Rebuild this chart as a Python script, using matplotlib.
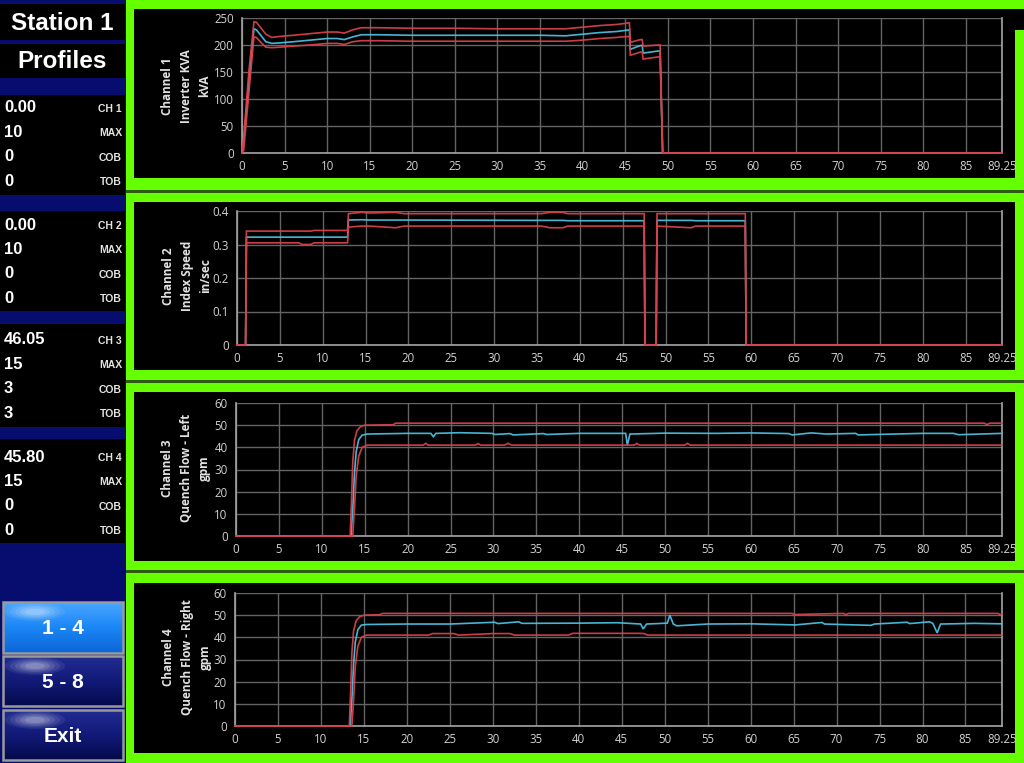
import matplotlib
matplotlib.use('Agg')
import matplotlib.pyplot as plt
from matplotlib.patches import Rectangle, Ellipse
import numpy as np

# ---------------- DATA ----------------
x_ticks = [0, 5, 10, 15, 20, 25, 30, 35, 40, 45, 50, 55, 60, 65, 70, 75, 80, 85, 89.25]
x_tick_labels = ["0", "5", "10", "15", "20", "25", "30", "35", "40", "45", "50", "55",
                 "60", "65", "70", "75", "80", "85", "89.25"]

ch1_title = "Channel 1\nInverter KVA\nkVA"
ch1_yticks = [0, 50, 100, 150, 200, 250]
ch1_ytick_labels = ["0", "50", "100", "150", "200", "250"]
ch1_time = [0, 0.2, 0.8, 1.4, 1.7, 2.2, 2.8, 3.5, 4.5, 6, 8, 10, 11.2, 12, 13, 14, 16, 20, 25,
            30, 35, 38, 40, 42, 44, 45.5, 45.6, 46.8, 47.0, 47.1, 48.9, 49.1, 49.4, 89.25]
ch1_upper = [0, 30, 150, 243, 242, 232, 220, 214, 216, 218, 221, 224, 224, 222, 228, 232, 232, 231, 231,
             230, 230, 230, 233, 236, 238, 241, 205, 210, 210, 198, 200, 200, 0, 0]
ch1_actual = [0, 20, 130, 230, 228, 218, 206, 203, 204, 206, 209, 212, 212, 210, 215, 219, 219, 218, 218,
              218, 218, 217, 220, 223, 225, 228, 192, 199, 199, 185, 189, 189, 0, 0]
ch1_lower = [0, 5, 110, 215, 214, 205, 196, 195, 196, 198, 200, 203, 203, 201, 206, 208, 208, 207, 207,
             207, 207, 207, 209, 212, 214, 216, 181, 187, 187, 174, 178, 178, 0, 0]

ch2_title = "Channel 2\nIndex Speed\nin/sec"
ch2_yticks = [0, 0.1, 0.2, 0.3, 0.4]
ch2_ytick_labels = ["0", "0.1", "0.2", "0.3", "0.4"]
ch2_time = [0, 1.0, 1.1, 7.2, 7.6, 8.6, 9.0, 12.9, 13.0, 14.5, 15.5, 18.5, 19.5, 35.5, 36.5, 38.0,
            38.6, 47.5, 47.6, 48.9, 49.0, 53.0, 53.5, 59.3, 59.4, 89.25]
ch2_upper = [0, 0, 0.340, 0.340, 0.340, 0.340, 0.342, 0.342, 0.392, 0.396, 0.394, 0.396, 0.392, 0.392,
             0.396, 0.396, 0.392, 0.392, 0, 0, 0.392, 0.392, 0.392, 0.392, 0, 0]
ch2_actual = [0, 0, 0.322, 0.322, 0.322, 0.322, 0.322, 0.322, 0.373, 0.374, 0.373, 0.373, 0.373, 0.372,
              0.372, 0.372, 0.371, 0.371, 0, 0, 0.372, 0.372, 0.371, 0.371, 0, 0]
ch2_lower = [0, 0, 0.305, 0.305, 0.300, 0.300, 0.305, 0.305, 0.352, 0.355, 0.355, 0.350, 0.355, 0.355,
             0.350, 0.350, 0.355, 0.355, 0, 0, 0.355, 0.350, 0.355, 0.355, 0, 0]

ch3_title = "Channel 3\nQuench Flow - Left\ngpm"
flow_yticks = [0, 10, 20, 30, 40, 50, 60]
flow_ytick_labels = ["0", "10", "20", "30", "40", "50", "60"]
ch3_upper_t = [0, 13.3, 13.45, 13.6, 13.8, 14.1, 14.5, 15.0, 18.3, 18.6, 87.2, 87.5, 87.8, 89.25]
ch3_upper = [0, 0, 15, 33, 43, 47.5, 49.3, 50.0, 50.2, 50.9, 50.9, 50.2, 50.9, 50.9]
ch3_actual_t = [0, 13.4, 13.6, 13.8, 14.0, 14.3, 14.7, 15.3, 20, 22.7, 23.0, 23.3, 26, 29.8, 30.2, 31.9,
                32.3, 35.8, 36.2, 40, 45.4, 45.6, 45.9, 50, 56, 60, 64.4, 64.8, 67, 68.8, 72.2, 72.5,
                80, 83.6, 84.2, 89.25]
ch3_actual = [0, 0, 12, 28, 38, 43.5, 45.5, 46.0, 46.3, 46.3, 44.8, 46.3, 46.6, 46.3, 45.8, 46.2,
              45.6, 46.2, 45.8, 46.3, 46.3, 41.0, 46.0, 46.4, 46.3, 46.5, 46.2, 45.6, 46.5, 46.0, 46.3, 45.6,
              46.3, 46.3, 45.7, 46.3]
ch3_lower_t = [0, 13.6, 13.8, 14.0, 14.3, 14.7, 15.3, 21.8, 22.1, 22.4, 27.9, 28.2, 28.5, 31.3, 31.7,
               32.1, 46.4, 46.7, 47.0, 52.3, 52.6, 52.9, 89.25]
ch3_lower = [0, 0, 12, 27, 36, 40, 41, 41, 41.8, 41, 41, 41.7, 41, 41, 41.8, 41, 41, 41.8, 41, 41, 41.8, 41, 41]

ch4_title = "Channel 4\nQuench Flow - Right\ngpm"
ch4_upper_t = [0, 13.3, 13.45, 13.6, 13.8, 14.1, 14.5, 15.0, 16.8, 17.2, 64.8, 65.1, 70.8, 71.1, 71.4,
               88.8, 89.0, 89.25]
ch4_upper = [0, 0, 15, 33, 43, 47.5, 49.3, 50.0, 50.2, 50.8, 50.8, 50.3, 50.8, 50.2, 50.8, 50.8, 50.3, 50.5]
ch4_actual_t = [0, 13.4, 13.6, 13.8, 14.0, 14.3, 14.7, 15.3, 20, 25, 30.2, 30.6, 33.0, 33.4, 40, 44.5,
                47.2, 47.5, 47.9, 50.3, 50.6, 51.0, 51.4, 55, 60, 65.2, 68.3, 68.6, 74, 74.4, 78.2, 78.5,
                80.8, 81.2, 81.7, 82.1, 86, 89.25]
ch4_actual = [0, 0, 12, 28, 38, 43.5, 45.5, 45.8, 46.0, 46.0, 46.8, 46.2, 47.0, 46.3, 46.4, 46.6,
              46.0, 43.8, 46.0, 46.4, 50.0, 46.0, 45.2, 46.0, 46.1, 45.6, 46.7, 46.0, 45.4, 46.0, 46.8, 46.2,
              47.0, 46.3, 42.0, 46.0, 46.3, 46.1]
ch4_lower_t = [0, 13.6, 13.8, 14.0, 14.3, 14.7, 15.3, 22.5, 23.0, 25.5, 26.0, 29.5, 30.0, 32.0, 32.5,
               38.8, 39.3, 47.0, 47.6, 48.0, 89.25]
ch4_lower = [0, 0, 12, 27, 36, 40, 41, 41, 41.7, 41.7, 41, 41.6, 41.7, 41.7, 41, 41, 41.8, 41.8, 41.7, 41, 41]

station_title = "Station 1"
page_title = "Profiles"
readout_values = [["0.00", "10", "0", "0"],
                  ["0.00", "10", "0", "0"],
                  ["46.05", "15", "3", "3"],
                  ["45.80", "15", "0", "0"]]
readout_labels = [["CH 1", "MAX", "COB", "TOB"],
                  ["CH 2", "MAX", "COB", "TOB"],
                  ["CH 3", "MAX", "COB", "TOB"],
                  ["CH 4", "MAX", "COB", "TOB"]]
button_labels = ["1 - 4", "5 - 8", "Exit"]

# ---------------- STYLE ----------------
W, H = 1024, 763
NAVY = '#070d6e'
GREEN = '#66ff00'
DARKSEP = '#2b5c12'
RED = '#d8414b'
CYAN = '#4cbfe0'
GRID = '#646464'
SPINE = '#a5a5a5'
TICKC = '#d2d2d2'

fig = plt.figure(figsize=(W / 100, H / 100), dpi=100)
fig.patch.set_facecolor(NAVY)
bg = fig.add_axes([0, 0, 1, 1])
bg.set_zorder(0)
bg.axis('off')


def rect(x0, y0, x1, y1, color, z=1, **kw):
    bg.add_patch(Rectangle((x0, y0), x1 - x0, y1 - y0, facecolor=color, edgecolor='none', zorder=z, **kw))


# left panel
rect(0, 0, 126, H, NAVY)
for (y0, y1) in [(4, 40), (44, 78), (95, 195), (211, 311), (324, 427), (439, 543)]:
    rect(0, y0, 125, y1, 'black')

bg.text(62, 23, station_title, color='white', fontsize=17.5, fontweight='bold',
        family='Liberation Sans', ha='center', va='center', zorder=5)
bg.text(62, 61, page_title, color='white', fontsize=17.5, fontweight='bold',
        family='Liberation Sans', ha='center', va='center', zorder=5)

block_tops = [108, 225, 340, 457]
for b, top in enumerate(block_tops):
    for r in range(4):
        y = top + r * 24.4
        bg.text(4, y, readout_values[b][r], color='white', fontsize=12, fontweight='bold',
                family='Liberation Sans', ha='left', va='center', zorder=5)
        bg.text(122, y + 1, readout_labels[b][r], color='#e4e4e4', fontsize=7.5, fontweight='bold',
                family='Liberation Sans', ha='right', va='center', zorder=5)

# buttons
btn_boxes = [(3, 602, 123, 653), (3, 656, 123, 706), (3, 710, 123, 760)]
btn_grads = [('#4aa6ff', '#1a86f5', '#0d66d8'), ('#222c92', '#111a78', '#050a4c'),
             ('#222c92', '#111a78', '#050a4c')]
for (x0, y0, x1, y1), (c_top, c_mid, c_bot), lab in zip(btn_boxes, btn_grads, button_labels):
    cmap = matplotlib.colors.LinearSegmentedColormap.from_list('b', [c_top, c_mid, c_bot])
    grad = np.linspace(0, 1, 64).reshape(-1, 1)
    bg.imshow(grad, cmap=cmap, extent=(x0, x1, y1, y0), origin='upper', aspect='auto', zorder=3,
              interpolation='bilinear')
    for k, a in enumerate([0.07, 0.09, 0.11, 0.14, 0.16]):
        bg.add_patch(Ellipse((x0 + 32, y0 + 10), 60 - k * 10, 18 - k * 3, facecolor='white',
                             edgecolor='none', alpha=a, zorder=4))
    bg.add_patch(Rectangle((x0, y0), x1 - x0, y1 - y0, facecolor='none', edgecolor='#9a9a9a',
                           lw=1.8, zorder=5))
    bg.text((x0 + x1) / 2, (y0 + y1) / 2 + 1, lab, color='white', fontsize=15, fontweight='bold',
            family='Liberation Sans', ha='center', va='center', zorder=6)

# green frames
rect(126, 0, W, H, GREEN)
for ys in [190, 380, 570]:
    rect(126, ys, W, ys + 2.5, DARKSEP, z=2)
rect(134, 9, W, 178, 'black', z=2)
rect(1015, 30, W, 178, GREEN, z=2)
rect(134, 202, 1015, 370, 'black', z=2)
rect(134, 392, 1015, 561, 'black', z=2)
rect(134, 583, 1015, 753, 'black', z=2)

bg.set_xlim(0, W)
bg.set_ylim(H, 0)

# ---------------- CHARTS ----------------
charts = [
    dict(px=(242, 1002, 18, 153), title=ch1_title, tc=(186, 86), ylim=250,
         yt=ch1_yticks, ytl=ch1_ytick_labels,
         series=[(ch1_time, ch1_actual, CYAN), (ch1_time, ch1_upper, RED), (ch1_time, ch1_lower, RED)]),
    dict(px=(237, 1002, 211, 345), title=ch2_title, tc=(187, 276), ylim=0.4,
         yt=ch2_yticks, ytl=ch2_ytick_labels,
         series=[(ch2_time, ch2_actual, CYAN), (ch2_time, ch2_upper, RED), (ch2_time, ch2_lower, RED)]),
    dict(px=(236, 1002, 403, 536), title=ch3_title, tc=(186, 468), ylim=60,
         yt=flow_yticks, ytl=flow_ytick_labels,
         series=[(ch3_actual_t, ch3_actual, CYAN), (ch3_upper_t, ch3_upper, RED),
                 (ch3_lower_t, ch3_lower, RED)]),
    dict(px=(235, 1002, 593, 726), title=ch4_title, tc=(187, 657), ylim=60,
         yt=flow_yticks, ytl=flow_ytick_labels,
         series=[(ch4_actual_t, ch4_actual, CYAN), (ch4_upper_t, ch4_upper, RED),
                 (ch4_lower_t, ch4_lower, RED)]),
]

for ch in charts:
    x0, x1, yt, yb = ch['px']
    ax = fig.add_axes([x0 / W, 1 - yb / H, (x1 - x0) / W, (yb - yt) / H])
    ax.set_zorder(2)
    ax.set_facecolor('none')
    for tx, ty, col in ch['series']:
        ax.plot(tx, ty, color=col, lw=1.2, alpha=0.95, solid_joinstyle='miter', zorder=3, clip_on=False)
    ax.set_xlim(0, 89.25)
    ax.set_ylim(0, ch['ylim'])
    ax.set_xticks(x_ticks)
    ax.set_xticklabels(x_tick_labels)
    ax.set_yticks(ch['yt'])
    ax.set_yticklabels(ch['ytl'])
    ax.grid(True, color=GRID, lw=1.0, zorder=0)
    ax.set_axisbelow(True)
    for s in ['left', 'bottom', 'right']:
        ax.spines[s].set_color(SPINE)
        ax.spines[s].set_linewidth(1.2)
    ax.spines['top'].set_visible(False)
    ax.tick_params(length=0, colors=TICKC, labelsize=8.3)
    ax.tick_params(axis='x', pad=5)
    ax.tick_params(axis='y', pad=6)
    for lab in ax.get_xticklabels() + ax.get_yticklabels():
        lab.set_family('Open Sans')
    bg.text(ch['tc'][0], ch['tc'][1], ch['title'], rotation=90, color='#e2e2e2', fontsize=8.5,
            fontweight='bold', family='Open Sans', ha='center', va='center', ma='center',
            linespacing=1.55, zorder=5)

fig.savefig('out.png', dpi=100, facecolor=fig.get_facecolor())
